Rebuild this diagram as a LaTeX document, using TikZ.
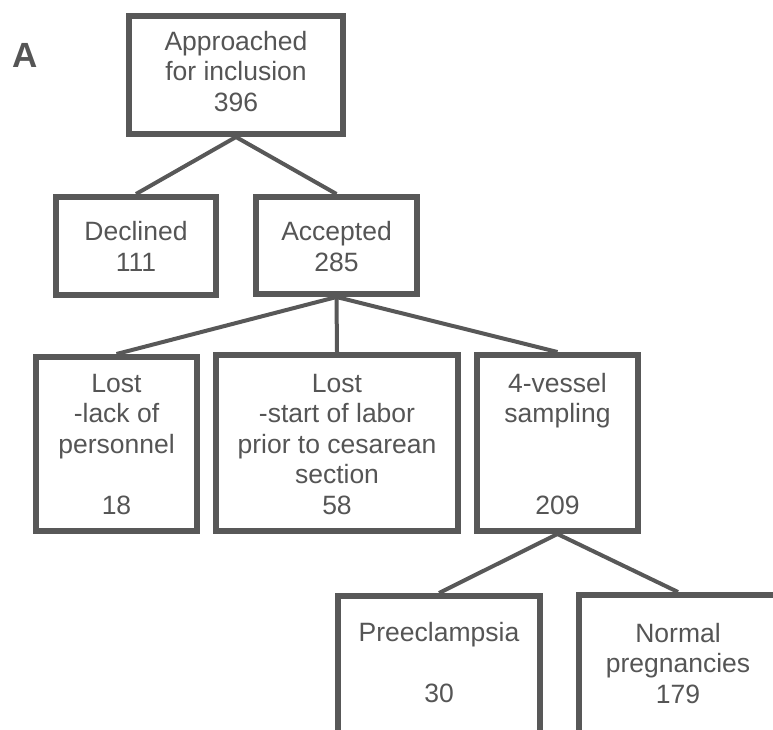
\documentclass[tikz,border=0pt]{standalone}
\usepackage{fontspec}
\setmainfont{Liberation Sans}
\definecolor{bd}{RGB}{88,88,88}
\definecolor{tx}{RGB}{85,85,85}
\begin{document}
\begin{tikzpicture}[x=1pt,y=-1pt,
  box/.style={draw=bd, line width=6pt, inner sep=0pt, rectangle},
  txt/.style={text=tx, align=center, font=\fontsize{26.5}{30.5}\selectfont, inner sep=0pt, anchor=base},
  conn/.style={draw=bd, line width=4pt}]
\useasboundingbox (0,0) rectangle (773,729);
\clip (0,0) rectangle (773,729);
% boxes
\node[box, minimum width=214pt, minimum height=118pt] (top) at (236,75) {};
\node[box, minimum width=160pt, minimum height=98pt] (decl) at (136,246) {};
\node[box, minimum width=161pt, minimum height=97pt] (acc) at (336.5,245.5) {};
\node[box, minimum width=161pt, minimum height=174pt] (lost1) at (116.5,444) {};
\node[box, minimum width=242pt, minimum height=176pt] (lost2) at (337,443) {};
\node[box, minimum width=161pt, minimum height=176pt] (vessel) at (557.5,443) {};
\node[box, minimum width=202pt, minimum height=181pt] (pre) at (439,686.5) {};
\node[box, minimum width=198pt, minimum height=182pt] (norm) at (678,686) {};
% texts (anchor = baseline of last line)
\node[txt] (ttop) at (236,111) {Approached\\for inclusion\\396};
\node[txt] (tdecl) at (136,271) {Declined\\111};
\node[txt] (tacc) at (336.5,271) {Accepted\\285};
\node[txt] (tlost1) at (116.5,514) {Lost\\-lack of\\personnel\\[30.5pt]18};
\node[txt] (tlost2) at (337,514) {Lost\\-start of labor\\prior to cesarean\\section\\58};
\node[txt] (tvessel) at (557.5,514) {4-vessel\\sampling\\[61pt]209};
\node[txt] (tpre) at (439,702) {Preeclampsia\\[30.5pt]30};
\node[txt] (tnorm) at (678,703) {Normal\\pregnancies\\179};
\node[text=tx, inner sep=0pt, anchor=base, font=\fontsize{35}{40}\selectfont\bfseries] (lab) at (25,67) {A};
% connectors
\draw[conn] (top.south) -- (decl.north);
\draw[conn] (top.south) -- (acc.north);
\draw[conn] (acc.south) -- (lost1.north);
\draw[conn] (acc.south) -- (lost2.north);
\draw[conn] (acc.south) -- (vessel.north);
\draw[conn] (vessel.south) -- (pre.north);
\draw[conn] (vessel.south) -- (norm.north);
\end{tikzpicture}
\end{document}
